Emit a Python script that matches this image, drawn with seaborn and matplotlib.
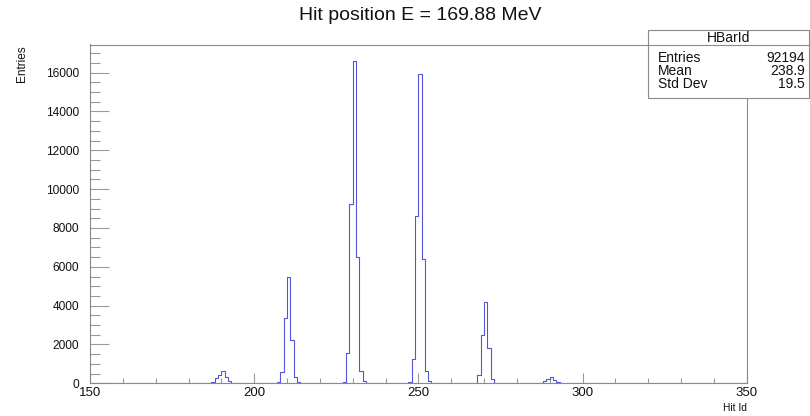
import numpy as np
import pandas as pd
import matplotlib
matplotlib.use('Agg')
import matplotlib.pyplot as plt
from matplotlib.ticker import MultipleLocator, FixedLocator
from matplotlib.patches import Rectangle
from matplotlib.lines import Line2D
import seaborn as sns

# ---- data (bin lower edge -> entries), bins of width 1 from 150 to 350 ----
hit_id = [168, 169, 170, 171, 172,
          187, 188, 189, 190, 191, 192, 193,
          207, 208, 209, 210, 211, 212, 213,
          226, 227, 228, 229, 230, 231, 232, 233,
          247, 248, 249, 250, 251, 252, 253,
          267, 268, 269, 270, 271, 272, 273,
          288, 289, 290, 291, 292, 293,
          307, 308, 309, 310, 311, 312, 313, 314,
          328, 331, 348, 349]
entries = [20, 30, 40, 30, 20,
           60, 268, 438, 628, 350, 129, 30,
           80, 607, 3387, 5467, 2239, 319, 60,
           20, 80, 1555, 9225, 16618, 6497, 659, 93,
           80, 1246, 8623, 15918, 6394, 643, 93,
           40, 438, 2497, 4180, 1812, 216, 40,
           100, 200, 350, 190, 60, 20,
           10, 10, 10, 10, 10, 10, 10, 10,
           10, 10, 10, 10]

title = "Hit position E = 169.88 MeV"
x_title = "Hit Id"
y_title = "Entries"
stats_name = "HBarId"
stats_labels = ["Entries", "Mean", "Std Dev"]
stats_values = ["92194", "238.9", "19.5"]
x_ticks = [150, 200, 250, 300, 350]
y_ticks = [0, 2000, 4000, 6000, 8000, 10000, 12000, 14000, 16000]

sns.set_style('white')
plt.rcParams['font.family'] = ['Liberation Sans', 'DejaVu Sans']

W, H = 810, 416
fig = plt.figure(figsize=(W / 100, H / 100), dpi=100)
L, R, T, B = 90.0, 746.7, 44.5, 383.3
ax = fig.add_axes([L / W, 1 - B / H, (R - L) / W, (B - T) / H])

df = pd.DataFrame({'hit': np.array(hit_id, dtype=float) + 0.5,
                   'n': np.array(entries, dtype=float)})
sns.histplot(data=df, x='hit', weights='n', binwidth=1, binrange=(150, 350),
             element='step', fill=False, color='#5555d8', linewidth=0.8, ax=ax)

ax.set_xlim(150, 350)
ax.set_ylim(0, 1.05 * max(entries))
ax.set_xlabel('')
ax.set_ylabel('')

frame_col = '#8a8a8a'
tick_col = '#9a9a9a'
for s in ax.spines.values():
    s.set_color(frame_col)
    s.set_linewidth(0.8)
    s.set_visible(True)

ax.xaxis.set_major_locator(FixedLocator(x_ticks))
ax.set_xticklabels([str(v) for v in x_ticks])
ax.xaxis.set_minor_locator(MultipleLocator(10))
ax.yaxis.set_major_locator(FixedLocator(y_ticks))
ax.set_yticklabels([str(v) for v in y_ticks])
ax.yaxis.set_minor_locator(MultipleLocator(500))

ax.tick_params(axis='x', which='major', direction='in', length=7.2, width=0.8,
               color=tick_col, pad=3, labelsize=9.5, labelcolor='#111111',
               bottom=True, top=False)
ax.tick_params(axis='x', which='minor', direction='in', length=3.6, width=0.8,
               color=tick_col, bottom=True, top=False)
ax.tick_params(axis='y', which='major', direction='in', length=14, width=0.8,
               color=tick_col, pad=8, labelsize=8.6, labelcolor='#111111',
               left=True, right=False)
ax.tick_params(axis='y', which='minor', direction='in', length=7, width=0.8,
               color=tick_col, left=True, right=False)

fig.text(420 / W, 1 - 16 / H, title, ha='center', va='center', fontsize=14, color='#111111')
fig.text(R / W, 1 - 408 / H, x_title, ha='right', va='center', fontsize=7.4, color='#111111')
fig.text(22 / W, 1 - 45 / H, y_title, ha='center', va='top', rotation=90, fontsize=8.5,
         color='#111111')

# stats box
bl, br, bt, bb, bsep = 648.3, 808.5, 30, 98.3, 45
fig.add_artist(Rectangle((bl / W, 1 - bb / H), (br - bl) / W, (bb - bt) / H,
                         transform=fig.transFigure, facecolor='white',
                         edgecolor=frame_col, linewidth=0.8, zorder=5))
fig.add_artist(Line2D([bl / W, br / W], [1 - bsep / H, 1 - bsep / H],
                      transform=fig.transFigure, color=frame_col, linewidth=0.8, zorder=6))
fig.text((bl + br) / 2 / W, 1 - 37.5 / H, stats_name, ha='center', va='center',
         fontsize=10, color='#111111', zorder=7)
for i, (lab, val) in enumerate(zip(stats_labels, stats_values)):
    yy = 1 - (57.5 + 13.5 * i) / H
    fig.text(658.3 / W, yy, lab, ha='left', va='center', fontsize=10, color='#111111', zorder=7)
    fig.text(805 / W, yy, val, ha='right', va='center', fontsize=10, color='#111111', zorder=7)

fig.savefig('out.png', dpi=100)
